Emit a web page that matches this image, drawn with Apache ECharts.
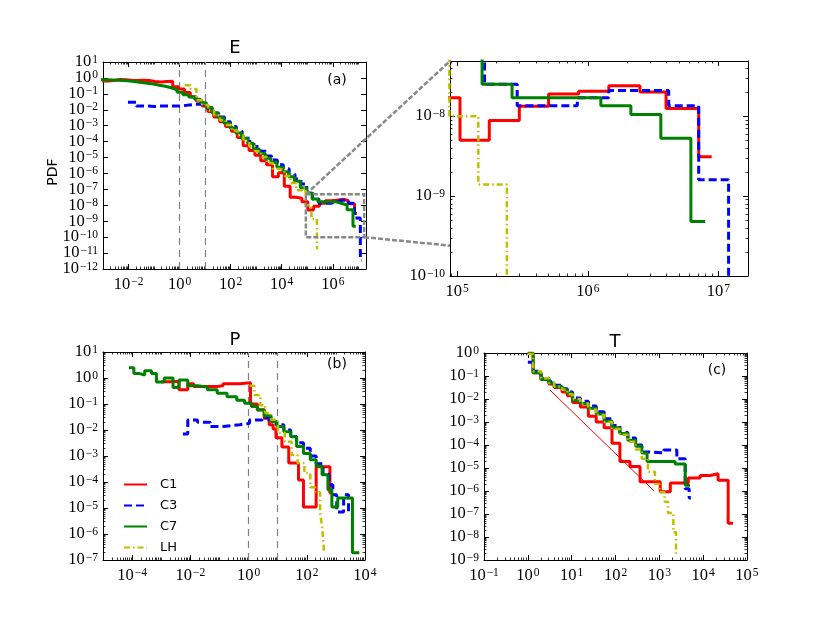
<!DOCTYPE html>
<html>
<head>
<meta charset="utf-8">
<script src="https://cdn.jsdelivr.net/npm/echarts@6/dist/echarts.min.js"></script>
<style>
html, body { margin: 0; padding: 0; background: #fff; }
#main { width: 830px; height: 623px; }
</style>
</head>
<body>
<div id="main"></div>
<script>
// ---- E panel (a) + zoom : bin edges and PDF values ----
var eC1X = [9.3e-4, 1.58e-3, 2.69e-3, 4.57e-3, 7.76e-3, 0.0132, 0.0224, 0.038, 0.0646, 0.11, 0.186, 0.316, 0.537, 0.912, 1.55, 2.63, 4.47, 7.59, 12.9, 21.9, 37.2, 63.1, 107, 182, 309, 525, 891, 1510, 2570, 4370, 7410, 12600, 21400, 36300, 61700, 1.05e5, 1.76e5, 2.99e5, 5.01e5, 8.51e5, 1.45e6, 2.51e6, 3.98e6, 7.08e6, 8.91e6];
var eC1Y = [0.65, 0.68, 0.8, 0.78, 0.72, 0.7, 0.72, 0.68, 0.6, 0.55, 0.6, 0.62, 0.28, 0.2, 0.12, 0.065, 0.035, 0.017, 7.9e-3, 3.5e-3, 1.8e-3, 8.9e-4, 4.5e-4, 1.8e-4, 5.6e-5, 2.8e-5, 1.4e-5, 6.3e-6, 3.5e-6, 6.3e-7, 1.1e-6, 1.6e-7, 3.2e-8, 2.8e-8, 1.7e-8, 5e-9, 8.8e-9, 1.33e-8, 1.9e-8, 2.05e-8, 2.4e-8, 2.0e-8, 1.25e-8, 3.1e-9];
var eC3X = [9.5e-3, 0.0204, 0.0347, 0.0589, 0.1, 0.17, 0.288, 0.49, 0.832, 1.41, 2.4, 4.07, 6.92, 11.7, 20.0, 33.9, 57.5, 97.7, 166, 282, 479, 813, 1380, 2340, 3980, 6760, 11500, 19500, 33100, 56200, 95500, 1.62e5, 2.88e5, 4.9e5, 8.32e5, 1.45e6, 2.45e6, 4.17e6, 7.08e6, 1.2e7, 1.32e7];
var eC3Y = [0.03, 0.017, 0.017, 0.016, 0.017, 0.017, 0.017, 0.017, 0.018, 0.02, 0.022, 0.022, 0.02, 0.0126, 6.3e-3, 3.5e-3, 1.8e-3, 8.9e-4, 4.5e-4, 2.2e-4, 1e-4, 5e-5, 2.5e-5, 1.26e-5, 7.1e-6, 3.5e-6, 2e-6, 8.9e-7, 4.5e-7, 2.2e-7, 7e-8, 2.5e-8, 1.35e-8, 1.35e-8, 1.7e-8, 2.1e-8, 2.1e-8, 1.35e-8, 1.6e-9, 3.5e-12];
var eC7X = [8.13e-4, 1.38e-3, 2.34e-3, 3.98e-3, 6.76e-3, 0.0115, 0.0195, 0.0331, 0.0562, 0.0955, 0.162, 0.275, 0.468, 0.794, 1.35, 2.29, 3.89, 6.61, 11.2, 19.1, 32.4, 55.0, 93.3, 158, 269, 457, 776, 1320, 2240, 3800, 6460, 11000, 18600, 31600, 53700, 91200, 1.55e5, 2.63e5, 4.47e5, 7.59e5, 1.26e6, 2.14e6, 3.63e6, 6.17e6, 7.94e6];
var eC7Y = [0.76, 0.74, 0.71, 0.68, 0.63, 0.58, 0.52, 0.47, 0.42, 0.35, 0.30, 0.24, 0.18, 0.126, 0.089, 0.063, 0.045, 0.028, 0.014, 6.3e-3, 3.2e-3, 1.4e-3, 7.1e-4, 3.5e-4, 1.6e-4, 7.9e-5, 3.5e-5, 1.8e-5, 8.9e-6, 5e-6, 2.5e-6, 1.26e-6, 6.3e-7, 3.2e-7, 1.26e-7, 6e-8, 2.5e-8, 1.7e-8, 1.7e-8, 1.7e-8, 1.35e-8, 1.05e-8, 5.3e-9, 4.8e-10];
var eLHX = [1.58, 2.69, 4.57, 7.76, 13.2, 22.4, 38, 64.6, 110, 186, 316, 537, 912, 1550, 2630, 4470, 7590, 12900, 21900, 37200, 63000, 87000, 1.45e5, 2.4e5, 2.7e5];
var eLHY = [0.35, 0.2, 0.04, 0.02, 8.9e-3, 4.5e-3, 2.2e-3, 1.1e-3, 5e-4, 2.5e-4, 1.1e-4, 5e-5, 2.5e-5, 1.1e-5, 4.5e-6, 2e-6, 1.6e-6, 7e-7, 2.5e-7, 8.9e-8, 1.3e-7, 1e-8, 1.4e-9, 2e-11];

// ---- P panel (b) ----
var pC1X = [1.0e-3, 1.87e-3, 4.07e-3, 8.17e-3, 0.013, 0.0837, 0.133, 0.498, 1.17, 2.01, 3.46, 5.1, 6.95, 8.77, 14.0, 24.0, 52.1, 76.9, 210, 624, 787];
var pC1Y = [0.72, 0.75, 0.35, 0.6, 0.47, 0.5, 0.6, 0.65, 0.1, 0.06, 0.028, 0.016, 0.011, 5e-3, 2.2e-3, 5.4e-4, 1.2e-4, 1.1e-5, 3.9e-4, 3.8e-5];
var pC3X = [5.55e-3, 8.17e-3, 0.0177, 0.0486, 0.133, 0.498, 1.08, 2.96, 5.1, 8.77, 16.3, 28.1, 44.7, 76.9, 132, 210, 362, 577, 787, 1070, 1840, 2720, 3430];
var pC3Y = [7e-3, 0.024, 0.02, 0.0135, 0.016, 0.018, 0.024, 0.03, 0.021, 0.016, 0.01, 5.6e-3, 3.2e-3, 2e-3, 1e-3, 5e-4, 2e-4, 7.9e-5, 3.2e-5, 7e-6, 3.2e-5, 7e-6];
var pC7X = [7.8e-5, 1.15e-4, 1.69e-4, 2.7e-4, 4.64e-4, 6.84e-4, 1.27e-3, 2.55e-3, 4.07e-3, 8.17e-3, 0.0177, 0.0386, 0.0837, 0.182, 0.394, 0.733, 1.26, 2.01, 3.46, 5.95, 9.47, 16.3, 28.1, 44.7, 76.9, 132, 210, 335, 533, 728, 1160, 3710, 6380];
var pC7Y = [2.5, 1.5, 1.3, 1.9, 1.5, 0.7, 1.0, 0.43, 0.83, 0.5, 0.45, 0.35, 0.26, 0.19, 0.14, 0.107, 0.08, 0.059, 0.035, 0.021, 0.0135, 8.5e-3, 5.5e-3, 2.3e-3, 1.26e-3, 7.1e-4, 4e-4, 1.9e-4, 5e-5, 1.1e-5, 2.4e-5, 1.9e-7];
var pLHX = [1.08, 1.59, 2.54, 3.73, 5.95, 10.2, 17.6, 30.3, 48.3, 83, 132, 195, 287, 335, 392, 423];
var pLHY = [0.5, 0.22, 0.09, 0.045, 0.025, 7.9e-3, 3.5e-3, 1.1e-3, 5.4e-4, 2.2e-4, 6.3e-5, 4e-5, 6.3e-6, 2e-6, 2e-7];

// ---- T panel (c) ----
var tC1X = [1, 1.32, 2.0, 3.02, 3.98, 6.03, 7.94, 10.5, 15.8, 24, 36.3, 55, 83.2, 126, 214, 363, 1050, 1780, 4570, 8510, 14500, 21900, 37200, 47900];
var tC1Y = [1, 0.14, 0.071, 0.045, 0.032, 0.02, 0.014, 7.1e-3, 4.5e-3, 1.8e-3, 1e-3, 5.6e-4, 1.2e-4, 1.9e-5, 1.15e-5, 2.5e-6, 9.3e-7, 2.2e-6, 3.7e-6, 4.7e-6, 5.6e-6, 2.9e-6, 4e-8];
var tC3X = [1, 1.32, 2.0, 3.02, 3.98, 6.03, 7.94, 10.5, 15.8, 24, 36.3, 55, 83.2, 126, 191, 288, 398, 525, 1260, 2510, 3890, 4790, 5250];
var tC3Y = [0.4, 0.16, 0.079, 0.056, 0.04, 0.028, 0.02, 0.011, 7.9e-3, 5e-3, 2.8e-3, 1.4e-3, 7.1e-4, 3.5e-4, 2e-4, 1e-4, 5e-5, 4.5e-5, 6e-5, 2.5e-5, 1.26e-6, 5e-7];
var tC7X = [1, 1.32, 2.0, 3.02, 3.98, 6.03, 7.94, 10.5, 15.8, 24, 36.3, 55, 83.2, 126, 191, 288, 398, 525, 2290, 3890, 5010];
var tC7Y = [0.95, 0.14, 0.071, 0.05, 0.035, 0.025, 0.018, 8.9e-3, 6.3e-3, 4e-3, 2.2e-3, 1.1e-3, 5.6e-4, 3.2e-4, 1.6e-4, 8.9e-5, 4.5e-5, 1.9e-5, 1.5e-5, 1.8e-6];
var tLHX = [1, 1.32, 2.0, 3.02, 3.98, 6.03, 7.94, 10.5, 15.8, 24, 36.3, 55, 83.2, 126, 191, 288, 398, 550, 794, 1000, 1320, 1580, 2090, 2400, 2690];
var tLHY = [0.9, 0.16, 0.079, 0.05, 0.035, 0.025, 0.016, 0.01, 6.3e-3, 3.5e-3, 2e-3, 1e-3, 5e-4, 2.8e-4, 1.4e-4, 6.3e-5, 2.5e-5, 6.8e-6, 2e-6, 8.9e-7, 3.4e-7, 1.1e-7, 1.6e-8, 2e-9];
var tFitX = [3.16, 760];
var tFitY = [0.025, 1e-6];

// dashed guides and zoom box
var guideX = [1, 10];
var zoomX = [8.8e4, 1.69e7];
var zoomY = [1e-10, 4.9e-8];

// tick labels
var eXTicks = [1e-2, 1e0, 1e2, 1e4, 1e6];
var eYTicks = [1e1, 1e0, 1e-1, 1e-2, 1e-3, 1e-4, 1e-5, 1e-6, 1e-7, 1e-8, 1e-9, 1e-10, 1e-11, 1e-12];
var zXTicks = [1e5, 1e6, 1e7];
var zYTicks = [1e-8, 1e-9, 1e-10];
var pXTicks = [1e-4, 1e-2, 1e0, 1e2, 1e4];
var pYTicks = [1e1, 1e0, 1e-1, 1e-2, 1e-3, 1e-4, 1e-5, 1e-6, 1e-7];
var tXTicks = [1e-1, 1e0, 1e1, 1e2, 1e3, 1e4, 1e5];
var tYTicks = [1e0, 1e-1, 1e-2, 1e-3, 1e-4, 1e-5, 1e-6, 1e-7, 1e-8, 1e-9];

var SERIF = '"Liberation Serif", "DejaVu Serif", serif';
var SANS = '"DejaVu Sans", "Liberation Sans", sans-serif';

var chart = echarts.init(document.getElementById('main'));

function sup(v) {
	var e = Math.round(Math.log10(v));
	return '{b|10}{e|' + (e < 0 ? '\u2212' + (-e) : e) + '}';
}
var rich = {
	b: { fontFamily: SERIF, fontSize: 16.5, color: '#000', lineHeight: 17, verticalAlign: 'bottom' },
	e: { fontFamily: SERIF, fontSize: 11.5, color: '#000', lineHeight: 10, verticalAlign: 'top', padding: [0, 0, 0, 1] }
};

// minor tick positions 2..9 x 10^k inside range (plus unlabeled decades)
function minors(range, major, decades) {
	var out = [];
	var a = Math.floor(Math.log10(range[0])), b = Math.ceil(Math.log10(range[1]));
	for (var k = a; k <= b; k++) {
		var d = Math.pow(10, k);
		if (decades && major.indexOf(d) < 0 && d >= range[0] && d <= range[1]) out.push(d);
		for (var m = 2; m <= 9; m++) {
			var v = m * d;
			if (v > range[0] && v < range[1]) out.push(v);
		}
	}
	return out;
}

// keep end labels just inside the extent
function inside(list, range) {
	return list.map(function (v) {
		if (v <= range[0] * 1.0001) return v * 1.00001;
		if (v >= range[1] * 0.9999) return v * 0.99999;
		return v;
	});
}

var STRIDE = 5; // axes per grid and dimension
function axisSet(dim, gi, range, labels, minor) {
	var pos = dim === 'x' ? ['bottom', 'top'] : ['left', 'right'];
	var common = {
		type: 'log', logBase: 10, gridIndex: gi, min: range[0], max: range[1],
		splitLine: { show: false }, minorTick: { show: false }, axisPointer: { show: false }
	};
	var vals = inside(labels, range);
	// labels alternate between two axes so that crowded ones are never dropped
	var evenVals = vals.filter(function (v, i) { return i % 2 === 0; });
	var oddVals = vals.filter(function (v, i) { return i % 2 === 1; });
	function lab(list) {
		return {
			show: true, customValues: list, formatter: sup, rich: rich, margin: dim === 'x' ? 7 : 5,
			showMinLabel: true, showMaxLabel: true, hideOverlap: false
		};
	}
	var list = [];
	pos.forEach(function (p, i) {
		list.push(Object.assign({}, common, {
			position: p,
			axisLine: { show: true, onZero: false, lineStyle: { color: '#000', width: 1 } },
			axisTick: { show: true, inside: true, length: 5, customValues: vals, lineStyle: { color: '#000', width: 1 } },
			axisLabel: i === 0 ? lab(evenVals) : { show: false }
		}));
	});
	pos.forEach(function (p) {
		list.push(Object.assign({}, common, {
			position: p,
			axisLine: { show: false },
			axisTick: minor.length ? { show: true, inside: true, length: 2.5, customValues: minor, lineStyle: { color: '#000', width: 0.8 } } : { show: false },
			axisLabel: { show: false }
		}));
	});
	list.push(Object.assign({}, common, {
		position: pos[0],
		axisLine: { show: false },
		axisTick: { show: false },
		axisLabel: oddVals.length ? lab(oddVals) : { show: false }
	}));
	return list;
}

var ranges = [
	{ x: [1e-3, 2e7], y: [1e-12, 1e1], xl: eXTicks, yl: eYTicks, xm: true, ym: false },
	{ x: zoomX, y: zoomY, xl: zXTicks, yl: zYTicks, xm: true, ym: true },
	{ x: [1e-5, 1e4], y: [1e-7, 1e1], xl: pXTicks, yl: pYTicks, xm: true, ym: true },
	{ x: [1e-1, 1e5], y: [1e-9, 1e0], xl: tXTicks, yl: tYTicks, xm: true, ym: true }
];

var xAxes = [], yAxes = [];
ranges.forEach(function (r, gi) {
	xAxes = xAxes.concat(axisSet('x', gi, r.x, r.xl, r.xm ? minors(r.x, r.xl, true) : []));
	yAxes = yAxes.concat(axisSet('y', gi, r.y, r.yl, r.ym ? minors(r.y, r.yl, false) : []));
});

var styles = {
	C1: { color: '#ff0000', width: 3 },
	C3: { color: '#0000ff', width: 3, type: [8, 4] },
	C7: { color: '#008000', width: 3 },
	LH: { color: '#bfbf00', width: 2.5, type: [6, 3, 1.5, 3] }
};

function steps(xs, ys) {
	var d = ys.map(function (y, i) { return [xs[i], y]; });
	d.push([xs[xs.length - 1], ys[ys.length - 1]]);
	return d;
}

function stepSeries(name, gi, xs, ys) {
	return {
		name: name, type: 'line', xAxisIndex: gi * STRIDE, yAxisIndex: gi * STRIDE,
		data: steps(xs, ys), step: 'end', symbol: 'none', showSymbol: false,
		lineStyle: styles[name], itemStyle: { color: styles[name].color },
		clip: true, silent: true, z: 3
	};
}

var guides = {
	symbol: 'none', silent: true, label: { show: false }, z: 1,
	lineStyle: { color: '#808080', width: 1.2, type: [7, 5] },
	data: guideX.map(function (v) { return { xAxis: v }; })
};

var panels = [
	[eC1X, eC1Y, eC3X, eC3Y, eC7X, eC7Y, eLHX, eLHY],
	[eC1X, eC1Y, eC3X, eC3Y, eC7X, eC7Y, eLHX, eLHY],
	[pC1X, pC1Y, pC3X, pC3Y, pC7X, pC7Y, pLHX, pLHY],
	[tC1X, tC1Y, tC3X, tC3Y, tC7X, tC7Y, tLHX, tLHY]
];
var names = ['C1', 'C3', 'C7', 'LH'];

var series = [];
panels.forEach(function (p, gi) {
	names.forEach(function (n, k) {
		var s = stepSeries(n, gi, p[k * 2], p[k * 2 + 1]);
		if (k === 0 && (gi === 0 || gi === 2)) s.markLine = guides;
		if (k === 0 && gi === 0) {
			s.markArea = {
				silent: true, z: 4,
				itemStyle: { color: 'rgba(0,0,0,0)', borderColor: '#888', borderWidth: 2.5, borderType: [5, 2] },
				data: [[{ coord: [zoomX[0], zoomY[1]] }, { coord: [zoomX[1], zoomY[0]] }]]
			};
		}
		series.push(s);
	});
});
// power law fit in T
series.push({
	name: 'fit', type: 'line', xAxisIndex: 3 * STRIDE, yAxisIndex: 3 * STRIDE,
	data: tFitX.map(function (x, i) { return [x, tFitY[i]]; }),
	symbol: 'none', lineStyle: { color: '#ff0000', width: 1 }, silent: true, z: 3
});

chart.setOption({
	animation: false,
	backgroundColor: '#fff',
	grid: [
		{ left: 103, top: 62, width: 263, height: 207 },
		{ left: 450, top: 61, width: 298, height: 215 },
		{ left: 103, top: 352, width: 262, height: 208 },
		{ left: 484, top: 353, width: 263, height: 207 }
	],
	xAxis: xAxes,
	yAxis: yAxes,
	legend: {
		data: names, orient: 'vertical', left: 118, top: 473,
		itemWidth: 23, itemHeight: 12, itemGap: 8, selectedMode: false,
		itemStyle: { opacity: 0, borderWidth: 0 },
		textStyle: { fontFamily: SANS, fontSize: 13, color: '#000', padding: [0, 0, 0, 8] }
	},
	series: series
});

// inset connector lines
var a1 = chart.convertToPixel({ xAxisIndex: 0, yAxisIndex: 0 }, [zoomX[0], zoomY[1]]);
var b1 = chart.convertToPixel({ xAxisIndex: STRIDE, yAxisIndex: STRIDE }, [zoomX[0], zoomY[1]]);
var a2 = chart.convertToPixel({ xAxisIndex: 0, yAxisIndex: 0 }, [zoomX[1], zoomY[0]]);
var b2 = chart.convertToPixel({ xAxisIndex: STRIDE, yAxisIndex: STRIDE }, [zoomX[0], 2.4e-10]);

function txt(id, x, y, s, size, rot) {
	return {
		id: id, type: 'text', x: x, y: y, rotation: rot || 0, z: 20,
		style: { text: s, fontFamily: SANS, fontSize: size, fill: '#000', align: 'center', verticalAlign: 'middle' }
	};
}
var dash = { stroke: '#888', lineWidth: 2.5, lineDash: [5, 2] };

chart.setOption({
	graphic: [
		{ id: 'l1', type: 'line', z: 15, shape: { x1: a1[0], y1: a1[1], x2: b1[0], y2: b1[1] }, style: dash },
		{ id: 'l2', type: 'line', z: 15, shape: { x1: a2[0], y1: a2[1], x2: b2[0], y2: b2[1] }, style: dash },
		txt('tE', 235, 48, 'E', 18),
		txt('tP', 235, 340, 'P', 18),
		txt('tT', 615, 342, 'T', 18),
		txt('la', 337, 80, '(a)', 14),
		txt('lb', 337, 364, '(b)', 14),
		txt('lc', 717, 370, '(c)', 14),
		txt('pdf', 53, 172, 'PDF', 14, Math.PI / 2)
	]
});
</script>
</body>
</html>
